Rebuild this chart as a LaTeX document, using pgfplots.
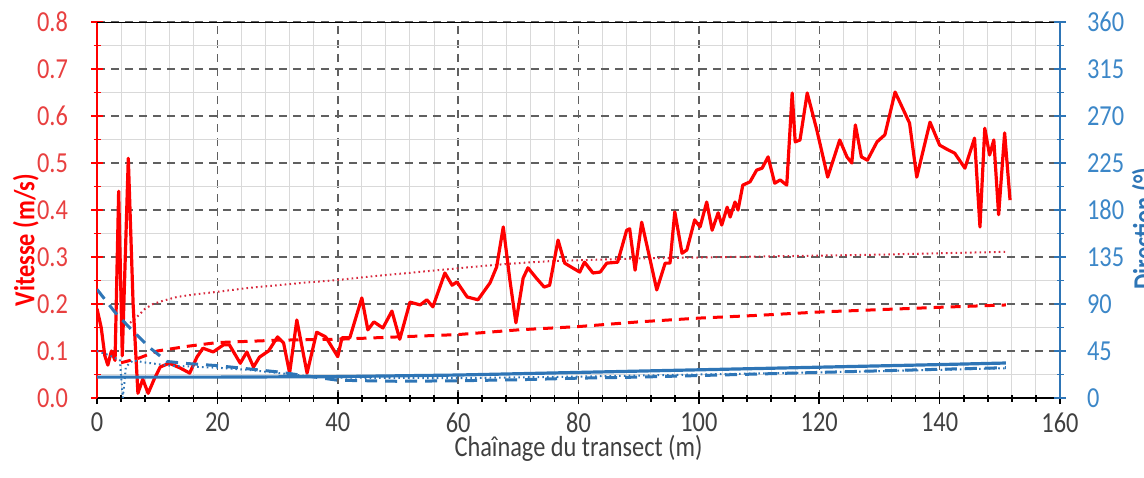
\documentclass[border=0pt]{standalone}
\usepackage{fontspec}
\setmainfont{Carlito}[FakeStretch=0.84]
\usepackage{pgfplots}
\pgfplotsset{compat=1.18}

\definecolor{vred}{RGB}{255,0,0}
\definecolor{lred}{RGB}{232,64,64}
\definecolor{dotred}{RGB}{215,40,60}
\definecolor{xblue}{RGB}{46,117,182}
\definecolor{lblue}{RGB}{60,135,200}
\definecolor{txt}{RGB}{64,64,64}
\newcommand{\tfont}{\fontsize{14.5}{17}\selectfont}

\begin{document}
\begin{tikzpicture}
\begin{axis}[
  scale only axis, width=481.5pt, height=188pt,
  xmin=0, xmax=160, ymin=0, ymax=0.8,
  axis x line*=bottom, axis y line*=left,
  xtick={0,20,...,160}, minor x tick num=4,
  ytick={0,0.1,...,0.8}, minor y tick num=1,
  xticklabel={\tfont\pgfmathprintnumber[assume math mode=true]{\tick}},
  yticklabel={\tfont\pgfmathprintnumber[assume math mode=true,fixed,fixed zerofill,precision=1]{\tick}},
  yticklabel style={text=lred, xshift=-8pt},
  xticklabel style={text=txt, yshift=-1pt},
  grid=both,
  major grid style={gray!75!black, line width=0.75pt, dash pattern=on 4pt off 3pt},
  minor grid style={gray!30, line width=0.5pt},
  tick align=center, major tick length=6pt, minor tick length=3.5pt,
  x axis line style={black, line width=1pt, -},
  y axis line style={vred, line width=1pt, -},
  xtick style={black, line width=0.8pt},
  ytick style={vred, line width=0.8pt},
  xlabel={\tfont Chaînage du transect (m)},
  xlabel style={text=txt, at={(axis description cs:0.5,-0.135)}, anchor=center},
  ylabel={\tfont\bfseries Vitesse (m/s)},
  ylabel style={text=vred, at={(axis description cs:-0.074,0.42)}, anchor=center},
]
\draw[black, line width=1pt] (rel axis cs:0,1) -- (rel axis cs:1,1);

% trend, dotted
\addplot[dotred, line width=1pt, dash pattern=on 0.8pt off 1.6pt] coordinates {
(5.5,0.16) (6.6,0.172) (8,0.19) (9.3,0.2) (11,0.207) (13.3,0.215) (16,0.22)
(20,0.226) (25,0.234) (30,0.24) (35,0.246) (40,0.251) (45,0.258) (50,0.264)
(55,0.27) (60,0.276) (65,0.282) (70,0.287) (75,0.291) (80,0.293) (85,0.295)
(90,0.297) (95,0.298) (100,0.299) (110,0.301) (120,0.303) (130,0.305)
(140,0.308) (151,0.311)
};
% trend, dashed
\addplot[vred, line width=1.5pt, dash pattern=on 5pt off 3.5pt] coordinates {
(4,0.075) (7,0.085) (10,0.1) (15,0.11) (20,0.118) (30,0.123) (40,0.125)
(50,0.13) (60,0.135) (70,0.145) (80,0.152) (90,0.162) (100,0.17) (110,0.176)
(120,0.183) (130,0.188) (140,0.193) (151,0.198)
};
% measured velocity
\addplot[vred, line width=1.6pt, line join=round] coordinates {
(0,0.19) (0.7,0.15) (1.3,0.09) (1.8,0.07) (2.4,0.10) (3,0.08) (3.6,0.44)
(4.2,0.09) (5.2,0.51) (6,0.2) (6.8,0.01) (7.6,0.04) (8.5,0.01) (9.5,0.04)
(10.5,0.066) (12,0.074) (13.8,0.064) (15.4,0.053) (16.6,0.087) (17.6,0.106)
(19.3,0.098) (21,0.113) (22,0.113) (23.8,0.074) (24.9,0.098) (26,0.066)
(27,0.087) (28.5,0.10) (30,0.13) (31,0.117) (32,0.053) (33.2,0.166)
(34.9,0.053) (36.5,0.14) (38,0.13) (40,0.088) (40.7,0.128) (42,0.128)
(44,0.213) (45,0.145) (46,0.162) (47.5,0.149) (49,0.185) (50.3,0.125)
(52,0.204) (53.7,0.198) (54.8,0.209) (55.8,0.194) (57.8,0.266) (59,0.24)
(59.8,0.247) (61.5,0.215) (63.3,0.209) (65.3,0.245) (66.4,0.279) (67.5,0.364)
(68.6,0.251) (69.6,0.16) (70.8,0.255) (71.6,0.277) (73,0.255) (74.3,0.236)
(75.2,0.24) (76.6,0.336) (77.7,0.287) (79,0.277) (80.2,0.268) (81,0.289)
(82.4,0.266) (83.6,0.268) (84.7,0.287) (86.5,0.289) (88,0.357) (88.5,0.36)
(89.4,0.272) (90.5,0.374) (91.9,0.294) (93,0.23) (94.4,0.287) (95.2,0.287)
(96,0.396) (97.2,0.308) (98,0.315) (99.3,0.379) (100.2,0.364) (101.3,0.417)
(102.2,0.357) (103.2,0.394) (103.8,0.368) (104.7,0.406) (105.2,0.385)
(106,0.417) (106.5,0.4) (107.3,0.453) (108.5,0.46) (109.6,0.485) (110.5,0.489)
(111.5,0.513) (112.6,0.457) (113.5,0.464) (114.6,0.453) (115.5,0.649)
(116,0.545) (116.8,0.549) (118,0.649) (119.6,0.57) (121.4,0.47) (123.4,0.549)
(124.6,0.513) (125.4,0.5) (126,0.581) (127,0.513) (128,0.506) (129.6,0.545)
(130.9,0.56) (132.6,0.651) (135,0.585) (136.2,0.47) (138.4,0.587) (140,0.538)
(141.4,0.528) (142.5,0.521) (144.2,0.489) (145.8,0.553) (146.7,0.364)
(147.5,0.574) (148.3,0.517) (149,0.549) (149.8,0.39) (150.8,0.564) (151.7,0.421)
};
\end{axis}

\begin{axis}[
  scale only axis, width=481.5pt, height=188pt,
  xmin=0, xmax=160, ymin=0, ymax=360,
  axis x line=none, axis y line*=right,
  ytick={0,45,...,360}, minor y tick num=1,
  yticklabel={\tfont\pgfmathprintnumber[assume math mode=true]{\tick}},
  tick align=center, major tick length=6pt, minor tick length=3.5pt,
  y axis line style={xblue, line width=1pt, -},
  ytick style={xblue, line width=0.8pt},
  yticklabel style={text=lblue, xshift=7pt},
  ylabel={\tfont\bfseries Direction (°)},
  ylabel style={text=xblue, at={(axis description cs:1.088,0.45)}, anchor=center},
]
% direction, dashed
\addplot[xblue, line width=1.5pt, dash pattern=on 6pt off 4pt] coordinates {
(0,104) (3,82) (5.8,65) (8.8,48) (11.6,35) (15,33) (20,31) (25,28) (30,25)
(35,21) (40,17) (50,16) (60,16.5) (70,17.5) (80,19) (90,20) (100,21.5)
(110,23) (120,24.5) (130,26) (140,27.5) (151,29)
};
% direction, dotted
\addplot[xblue, line width=1pt, dash pattern=on 0.8pt off 1.6pt] coordinates {
(0,45) (2,41) (3.8,36) (4.3,0) (4.8,30) (6,36) (8,34) (12,31) (16,30) (20,29)
(25,27) (30,24) (35,21) (40,19.5) (60,19) (80,20.5) (100,22.5) (120,24.5)
(140,27) (151,28.5)
};
% direction, solid
\addplot[xblue, line width=1.6pt] coordinates {
(0,20) (20,20) (40,20.5) (60,22) (80,24.5) (100,27) (120,29.5) (140,32) (151,33.5)
};
\end{axis}
\pgfresetboundingbox
\path[use as bounding box] ([shift={(-48.5pt,-39.5pt)}]current axis.south west)
  rectangle ([shift={(42pt,11pt)}]current axis.north east);
\end{tikzpicture}
\end{document}
